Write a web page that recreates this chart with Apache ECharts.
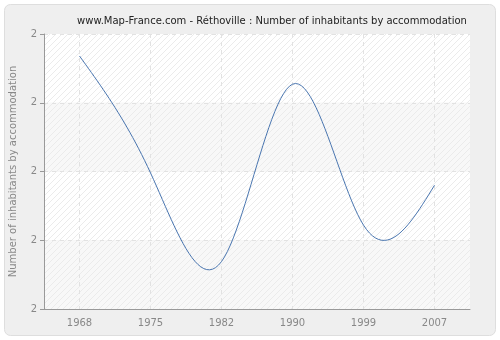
<!DOCTYPE html>
<html>
<head>
<meta charset="utf-8">
<style>html,body{margin:0;padding:0;background:#fff;}#c{width:500px;height:340px;}</style>
<script src="https://cdn.jsdelivr.net/npm/echarts@6/dist/echarts.min.js"></script>
</head>
<body>
<div id="c"></div>
<script>
var years = ['1968', '1975', '1982', '1990', '1999', '2007'];
var inhabitants = [2.368, 2.198, 2.069, 2.327, 2.122, 2.180];
var yMin = 2.0, yMax = 2.4, yStep = 0.1;

function hatch(bg) {
  var c = document.createElement('canvas');
  c.width = 6; c.height = 6;
  var g = c.getContext('2d');
  g.fillStyle = bg; g.fillRect(0, 0, 6, 6);
  g.strokeStyle = '#ebebeb'; g.lineWidth = 1;
  g.beginPath();
  g.moveTo(0, 6); g.lineTo(6, 0);
  g.moveTo(-3, 3); g.lineTo(3, -3);
  g.moveTo(3, 9); g.lineTo(9, 3);
  g.stroke();
  return { image: c, repeat: 'repeat' };
}

// natural cubic spline through pixel points (equal spacing in index)
function splinePath(pts, steps) {
  var n = pts.length, M = new Array(n).fill(0);
  if (n > 2) {
    var cp = [], dp = [];
    for (var i = 1; i < n - 1; i++) {
      var d = 6 * (pts[i + 1][1] - 2 * pts[i][1] + pts[i - 1][1]);
      var denom = 4 - (i > 1 ? cp[i - 2] : 0);
      cp.push(1 / denom);
      dp.push((d - (i > 1 ? dp[i - 2] : 0)) / denom);
    }
    M[n - 2] = dp[n - 3];
    for (var k = n - 3; k >= 1; k--) M[k] = dp[k - 1] - cp[k - 1] * M[k + 1];
  }
  var out = [];
  for (var s = 0; s < n - 1; s++) {
    for (var j = 0; j <= steps; j++) {
      if (s > 0 && j === 0) continue;
      var t = j / steps, u = 1 - t;
      var x = pts[s][0] + t * (pts[s + 1][0] - pts[s][0]);
      var y = u * pts[s][1] + t * pts[s + 1][1] + ((u * u * u - u) * M[s] + (t * t * t - t) * M[s + 1]) / 6;
      out.push([x, y]);
    }
  }
  return out;
}

var chart = echarts.init(document.getElementById('c'), null, { renderer: 'canvas' });
chart.setOption({
  backgroundColor: '#ffffff',
  animation: false,
  graphic: [{
    type: 'rect', z: -10, silent: true,
    shape: { x: 4.5, y: 4.5, width: 491, height: 331, r: 6 },
    style: { fill: '#efefef', stroke: '#dedede', lineWidth: 1 }
  }],
  title: {
    text: 'www.Map-France.com - Réthoville : Number of inhabitants by accommodation',
    left: 267, top: 11, textAlign: 'center',
    textStyle: { fontFamily: 'DejaVu Sans', fontSize: 10, fontWeight: 'normal', color: '#222' }
  },
  grid: { left: 40, right: 30, top: 34, bottom: 31 },
  xAxis: {
    type: 'category', data: years, boundaryGap: true,
    axisLine: { lineStyle: { color: '#999' } },
    axisTick: { alignWithLabel: true, length: 5, lineStyle: { color: '#999' } },
    axisLabel: { fontFamily: 'DejaVu Sans', fontSize: 10, color: '#888', margin: 9 },
    splitLine: { show: true, alignWithLabel: true, lineStyle: { color: '#e2e2e2', type: [4, 4] } }
  },
  yAxis: {
    type: 'value', min: yMin, max: yMax, interval: yStep,
    name: 'Number of inhabitants by accommodation',
    nameLocation: 'middle', nameGap: 26, nameRotate: 90,
    nameTextStyle: { fontFamily: 'DejaVu Sans', fontSize: 10, color: '#888' },
    axisLine: { show: true, lineStyle: { color: '#999' } },
    axisTick: { show: true, length: 4, lineStyle: { color: '#999' } },
    axisLabel: { fontFamily: 'DejaVu Sans', fontSize: 10, color: '#888', margin: 7,
      formatter: function (v) { return String(Math.round(v)); } },
    splitLine: { show: true, lineStyle: { color: '#e2e2e2', type: [4, 4] } },
    splitArea: { show: true, areaStyle: { color: [hatch('#f8f8f8'), hatch('#ffffff')] } }
  },
  series: [{
    type: 'custom',
    data: inhabitants.map(function (v, i) { return [i, v]; }),
    encode: { x: 0, y: 1 },
    renderItem: function (params, api) {
      if (params.dataIndex !== 0) return null;
      var pts = inhabitants.map(function (v, i) { return api.coord([i, v]); });
      return {
        type: 'polyline',
        shape: { points: splinePath(pts, 24) },
        style: { stroke: '#4a76b0', lineWidth: 1, fill: null }
      };
    }
  }]
});
</script>
</body>
</html>
